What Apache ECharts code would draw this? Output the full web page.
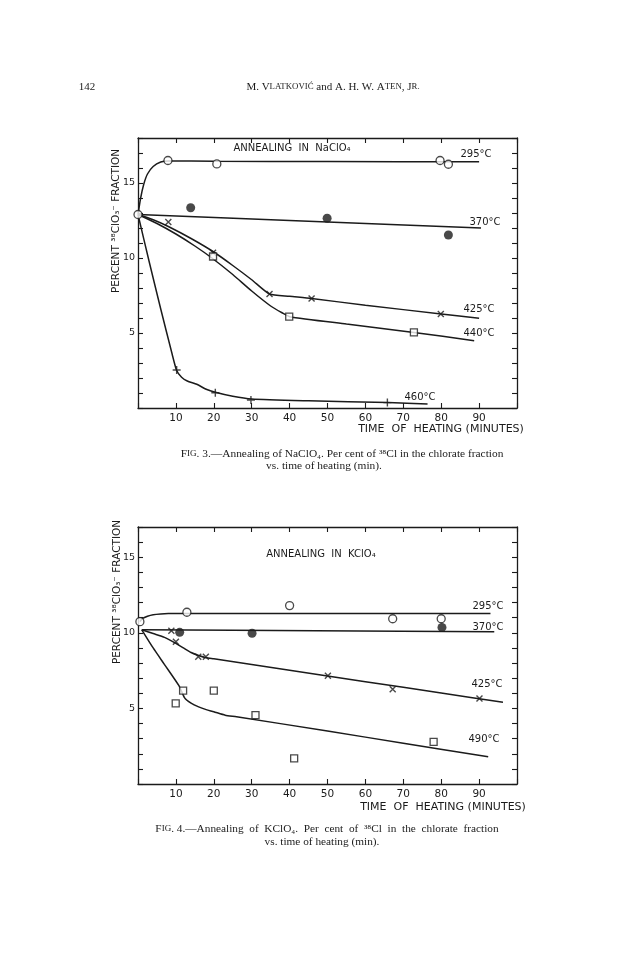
<!DOCTYPE html>
<html><head><meta charset="utf-8">
<script src="https://cdn.jsdelivr.net/npm/echarts@6/dist/echarts.min.js"></script>
<style>html,body{margin:0;padding:0;background:#fff}#c{width:624px;height:960px}</style>
</head><body><div id="c"></div>
<script>
// ---------- tick labels ----------
const xTickLabels = ['10','20','30','40','50','60','70','80','90'];
const yTickLabels = ['5','10','15'];

// ---------- Fig. 3  NaClO4 ----------
const na295Points = [[0,12.9],[7.9,16.5],[20.8,16.27],[79.7,16.5],[81.9,16.25]];
const na295Curve  = [[0,12.9],[0.7,14.0],[1.5,14.9],[2.5,15.6],[4,16.1],[6,16.4],[8,16.47],[20,16.45],[50,16.43],[90,16.42]];
const na370Points = [[13.9,13.35],[49.9,12.65],[81.9,11.53]];
const na370Curve  = [[0,12.9],[45,12.45],[90.5,12.0]];
const na425Points = [[8,12.4],[19.8,10.35],[34.7,7.6],[45.8,7.3],[79.9,6.27]];
const na425Curve  = [[0,12.9],[4,12.55],[8,12.1],[14,11.3],[20,10.4],[25,9.5],[30,8.55],[34.7,7.6],[40,7.45],[45.8,7.3],[60,6.85],[80,6.27],[90,5.98]];
const na440Points = [[19.8,10.1],[39.9,6.09],[72.8,5.04]];
const na440Curve  = [[0,12.9],[5,12.3],[10,11.6],[15,10.8],[19.5,10.0],[25,8.9],[30,7.8],[35,6.8],[38,6.35],[40,6.09],[55,5.6],[72.8,5.04],[88.7,4.49]];
const na460Points = [[10.2,2.53],[20.4,1.02],[29.8,0.53],[65.8,0.36]];
const na460Curve  = [[0,12.9],[3,9.7],[6,6.6],[9,3.6],[10.2,2.5],[11.5,2.05],[13,1.8],[15.5,1.58],[18,1.25],[20.4,1.05],[25,0.78],[30,0.6],[45,0.48],[66,0.36],[76.4,0.27]];

// ---------- Fig. 4  KClO4 ----------
const k295Points = [[0.5,10.74],[12.9,11.36],[40,11.8],[67.2,10.93],[80,10.93]];
const k295Curve  = [[0.5,10.74],[1.2,10.95],[2.5,11.1],[4,11.2],[6,11.25],[8,11.27],[50,11.27],[93,11.27]];
const k370Points = [[11,10.03],[30.1,9.97],[80.2,10.36]];
const k370Curve  = [[1,10.2],[47,10.13],[94,10.07]];
const k425Points = [[8.8,10.14],[10,9.41],[15.9,8.42],[17.9,8.42],[50.1,7.16],[67.2,6.26],[90.1,5.66]];
const k425Curve  = [[1,10.2],[4,9.95],[7,9.7],[10,9.3],[12,9.0],[14,8.7],[16,8.5],[18,8.35],[20,8.28],[40,7.52],[60,6.77],[80,6.02],[96.3,5.4]];
const k490Points = [[9.95,5.33],[11.9,6.17],[20,6.17],[31,4.56],[41.2,1.69],[78,2.79]];
const k490Curve  = [[1,10.2],[4,9.0],[7,7.9],[10.8,6.5],[12.3,5.7],[14,5.35],[16,5.1],[18,4.92],[20,4.78],[23,4.55],[26,4.45],[50,3.5],[70,2.7],[92.4,1.8]];

const INK = '#1b1b1b';
const SANS = '"DejaVu Sans", sans-serif';
const SERIF = '"Liberation Serif", "DejaVu Serif", serif';

const chart = echarts.init(document.getElementById('c'), null, {renderer:'canvas'});

function xAxes(grid) {
  return [
    {gridIndex:grid, type:'value', min:0, max:100, interval:10, position:'bottom',
     axisLine:{show:true, onZero:false, lineStyle:{color:INK, width:1.3}},
     axisTick:{show:true, inside:true, length:5, lineStyle:{color:INK, width:1.1}},
     axisLabel:{show:true, margin:5, color:INK, fontFamily:SANS, fontSize:10.5,
       formatter:v => xTickLabels.includes(String(v)) ? String(v) : ''},
     splitLine:{show:false}},
    {gridIndex:grid, type:'value', min:0, max:100, interval:10, position:'top',
     axisLine:{show:true, onZero:false, lineStyle:{color:INK, width:1.3}},
     axisTick:{show:true, inside:true, length:5, lineStyle:{color:INK, width:1.1}},
     axisLabel:{show:false}, splitLine:{show:false}}
  ];
}
function yAxes(grid, yMax) {
  return [
    {gridIndex:grid, type:'value', min:0, max:yMax, interval:1, position:'left',
     axisLine:{show:true, onZero:false, lineStyle:{color:INK, width:1.3}},
     axisTick:{show:true, inside:true, length:5, lineStyle:{color:INK, width:1.1}},
     axisLabel:{show:true, margin:3, color:INK, fontFamily:SANS, fontSize:9.5,
       formatter:v => yTickLabels.includes(String(v)) ? String(v) : ''},
     splitLine:{show:false}},
    {gridIndex:grid, type:'value', min:0, max:yMax, interval:1, position:'right',
     axisLine:{show:true, onZero:false, lineStyle:{color:INK, width:1.3}},
     axisTick:{show:true, inside:true, length:5, lineStyle:{color:INK, width:1.1}},
     axisLabel:{show:false}, splitLine:{show:false}}
  ];
}

function curve(axis, data) {
  return {type:'line', xAxisIndex:axis, yAxisIndex:axis, data:data, showSymbol:false, symbol:'none',
    smooth:0.2, silent:true, z:2,
    lineStyle:{color:INK, width:1.5}};
}
const SYM = {
  open:  {symbol:'circle', symbolSize:8, itemStyle:{color:'#fff', borderColor:INK, borderWidth:1.3}},
  dot:   {symbol:'circle', symbolSize:9, itemStyle:{color:INK, borderColor:INK, borderWidth:0}},
  cross: {symbol:'path://M0,0L10,10M10,0L0,10', symbolSize:6, itemStyle:{color:'rgba(0,0,0,0)', borderColor:INK, borderWidth:1.4}},
  plus:  {symbol:'path://M5,0L5,10M0,5L10,5', symbolSize:8, itemStyle:{color:'rgba(0,0,0,0)', borderColor:INK, borderWidth:1.4}},
  square:{symbol:'rect', symbolSize:7, itemStyle:{color:'#fff', borderColor:INK, borderWidth:1.3}}
};
function marks(axis, data, kind) {
  return Object.assign({type:'scatter', xAxisIndex:axis, yAxisIndex:axis, data:data, silent:true, z:3}, SYM[kind]);
}

function txt(x, y, text, size, opts) {
  return Object.assign({type:'text', x:x, y:y, silent:true,
    style:Object.assign({text:text, fill:INK, fontFamily:SANS, fontSize:size, align:'center', verticalAlign:'middle'}, (opts||{}).style||{})},
    (opts||{}).el||{});
}
function smallCaps(x, y, text, size) {
  return {type:'text', x:x, y:y, silent:true,
    style:{text:text, fill:INK, fontFamily:SERIF, fontSize:size, align:'center', verticalAlign:'middle',
      rich:{b:{fontFamily:SERIF, fontSize:size, fill:INK}, s:{fontFamily:SERIF, fontSize:size*0.8, fill:INK}}}};
}
const EN = '\u2002';

const option = {
  animation:false,
  backgroundColor:'#fff',
  grid:[
    {left:138, width:379, top:138, height:270, show:false},
    {left:138, width:379, top:527, height:257, show:false}
  ],
  xAxis:[...xAxes(0), ...xAxes(1)],
  yAxis:[...yAxes(0,18), ...yAxes(1,17)],
  series:[
    curve(0, na295Curve), curve(0, na370Curve), curve(0, na425Curve), curve(0, na440Curve), curve(0, na460Curve),
    marks(0, na295Points, 'open'), marks(0, na370Points, 'dot'), marks(0, na425Points, 'cross'),
    marks(0, na440Points, 'square'), marks(0, na460Points, 'plus'),
    curve(2, k295Curve), curve(2, k370Curve), curve(2, k425Curve), curve(2, k490Curve),
    marks(2, k295Points, 'open'), marks(2, k370Points, 'dot'), marks(2, k425Points, 'cross'),
    marks(2, k490Points, 'square')
  ],
  graphic:[
    // page header
    {type:'text', x:87, y:87, silent:true, style:{text:'142', fill:INK, fontFamily:SERIF, fontSize:11, align:'center', verticalAlign:'middle'}},
    smallCaps(333, 87, '{b|M. V}{s|LATKOVIĆ}{b| and A. H. W. A}{s|TEN}{b|, J}{s|R.}', 11),
    // Fig 3 texts
    txt(292, 148, 'ANNEALING  IN  NaClO₄', 10),
    txt(476, 154, '295°C', 10),
    txt(485, 222, '370°C', 10),
    txt(479, 309, '425°C', 10),
    txt(479, 333, '440°C', 10),
    txt(420, 397, '460°C', 10),
    txt(441, 429, 'TIME  OF  HEATING (MINUTES)', 11),
    txt(116, 221, 'PERCENT ³⁸ClO₃⁻ FRACTION', 10.5, {el:{rotation:Math.PI/2}}),
    smallCaps(342, 454, '{b|F}{s|IG}{b|. 3.—Annealing of NaClO₄. Per cent of ³⁸Cl in the chlorate fraction}', 11.4),
    smallCaps(324, 466, '{b|vs. time of heating (min).}', 11.4),
    // Fig 4 texts
    txt(321, 554, 'ANNEALING  IN  KClO₄', 10),
    txt(488, 606, '295°C', 10),
    txt(488, 627, '370°C', 10),
    txt(487, 684, '425°C', 10),
    txt(484, 739, '490°C', 10),
    txt(443, 807, 'TIME  OF  HEATING (MINUTES)', 11),
    txt(117, 592, 'PERCENT ³⁸ClO₃⁻ FRACTION', 10.5, {el:{rotation:Math.PI/2}}),
    smallCaps(327, 829, '{b|F}{s|IG}{b|. 4.—Annealing' + EN + 'of' + EN + 'KClO₄.' + EN + 'Per' + EN + 'cent' + EN + 'of' + EN + '³⁸Cl' + EN + 'in' + EN + 'the' + EN + 'chlorate' + EN + 'fraction}', 11.3),
    smallCaps(322, 842, '{b|vs. time of heating (min).}', 11.3)
  ]
};
chart.setOption(option);
</script>
</body></html>
